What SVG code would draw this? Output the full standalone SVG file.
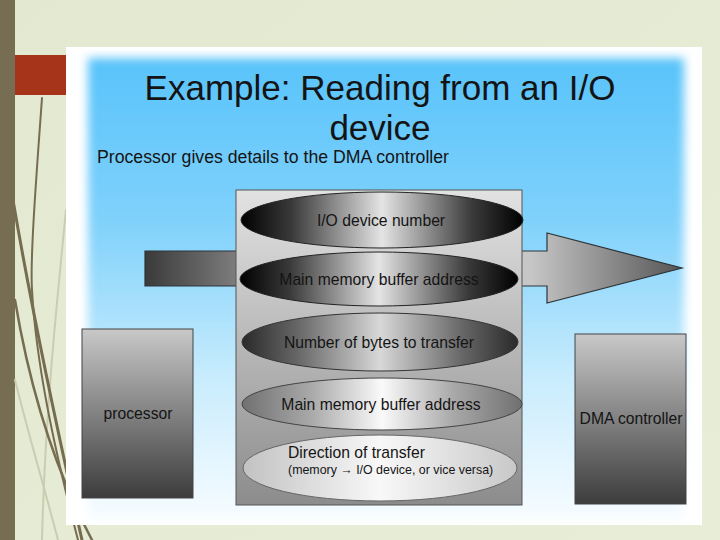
<svg xmlns="http://www.w3.org/2000/svg" width="720" height="540" viewBox="0 0 720 540">
<defs>
<style>
.t{font-family:"Liberation Sans",Arial,sans-serif;fill:#141414}
.lbl{font-size:15.7px;text-anchor:middle}
.deco{fill:none;stroke:#766c50;stroke-linecap:round}
.decol{fill:none;stroke:#c9cdb2;stroke-linecap:round}
</style>
<linearGradient id="bg" x1="0" y1="0" x2="1" y2="1">
<stop offset="0" stop-color="#e3e9d0"/><stop offset="1" stop-color="#e8edd8"/>
</linearGradient>
<linearGradient id="blue" x1="0" y1="0" x2="0" y2="1">
<stop offset="0" stop-color="#58c3fa"/><stop offset="0.35" stop-color="#7fd1fb"/><stop offset="0.7" stop-color="#c9ecfd"/><stop offset="1" stop-color="#f6fcff"/>
</linearGradient>
<filter id="soft" x="-5%" y="-5%" width="110%" height="110%"><feGaussianBlur stdDeviation="5"/></filter>
<linearGradient id="stack" x1="0" y1="0" x2="0" y2="1">
<stop offset="0" stop-color="#e2e2e2"/><stop offset="1" stop-color="#8c8c8c"/>
</linearGradient>
<linearGradient id="arrow" gradientUnits="userSpaceOnUse" x1="145" y1="0" x2="682" y2="0">
<stop offset="0" stop-color="#3a3a3a"/><stop offset="0.2" stop-color="#8a8888"/><stop offset="0.45" stop-color="#d2d2d2"/><stop offset="0.72" stop-color="#c6c6c6"/><stop offset="1" stop-color="#555"/>
</linearGradient>
<linearGradient id="box" x1="0" y1="0" x2="0" y2="1">
<stop offset="0" stop-color="#c8c8c8"/><stop offset="1" stop-color="#3c3c3c"/>
</linearGradient>
<linearGradient id="e1" x1="0" y1="0" x2="1" y2="0">
<stop offset="0" stop-color="#000"/><stop offset="0.18" stop-color="#3a3a3a"/><stop offset="0.5" stop-color="#e4e4e4"/><stop offset="0.82" stop-color="#3a3a3a"/><stop offset="1" stop-color="#000"/>
</linearGradient>
<linearGradient id="e3" x1="0" y1="0" x2="1" y2="0">
<stop offset="0" stop-color="#2a2a2a"/><stop offset="0.2" stop-color="#666"/><stop offset="0.5" stop-color="#d8d8d8"/><stop offset="0.8" stop-color="#666"/><stop offset="1" stop-color="#2a2a2a"/>
</linearGradient>
<linearGradient id="e4" x1="0" y1="0" x2="1" y2="0">
<stop offset="0" stop-color="#707070"/><stop offset="0.25" stop-color="#aaa"/><stop offset="0.5" stop-color="#fafafa"/><stop offset="0.75" stop-color="#aaa"/><stop offset="1" stop-color="#707070"/>
</linearGradient>
<linearGradient id="e5" x1="0" y1="0" x2="1" y2="0">
<stop offset="0" stop-color="#c2c2c2"/><stop offset="0.5" stop-color="#f8f8f8"/><stop offset="1" stop-color="#c8c8c8"/>
</linearGradient>
</defs>

<rect width="720" height="540" fill="url(#bg)"/>
<rect x="0" y="0" width="15" height="540" fill="#776d52"/>
<rect x="15" y="55" width="55" height="40" fill="#a5341a"/>
<g id="decoration">
<path class="decol" stroke-width="2" d="M15 380 C30 440 45 490 58 540"/>
<path class="decol" stroke-width="2" d="M66 210 C55 320 45 420 42 540"/>
<path class="deco" stroke-width="2" d="M42 98 C36 180 30 260 32 290 C36 360 52 440 78 540"/>
<path class="deco" stroke-width="3" d="M13 200 C30 300 55 420 82 540"/>
<path class="deco" stroke-width="2.5" d="M15 300 C30 390 55 470 92 540"/>
</g>

<rect x="66" y="47" width="636" height="478" fill="#fff"/>
<rect x="88" y="58" width="596" height="460" fill="url(#blue)" filter="url(#soft)"/>

<g id="title">
<text class="t" x="380" y="100" font-size="35" text-anchor="middle">Example: Reading from an I/O</text>
<text class="t" x="380" y="140" font-size="35" text-anchor="middle">device</text>
<text class="t" x="97" y="163" font-size="17.5" textLength="352" lengthAdjust="spacingAndGlyphs">Processor gives details to the DMA controller</text>
</g>

<g id="connectors">
<polygon points="145,251 547,251 547,233 682,268 547,303 547,286 145,286" fill="url(#arrow)" stroke="#2c3438" stroke-width="1.2"/>
</g>

<g id="processor">
<rect x="82" y="329" width="111" height="169" fill="url(#box)" stroke="#444" stroke-width="1"/>
<text class="t lbl" x="138" y="419">processor</text>
</g>

<g id="dma-controller">
<rect x="575" y="334" width="111" height="170" fill="url(#box)" stroke="#444" stroke-width="1"/>
<text class="t lbl" x="631" y="424">DMA controller</text>
</g>

<g id="details-stack">
<rect x="236" y="190" width="286" height="315" fill="url(#stack)" stroke="#555" stroke-width="1"/>
</g>

<g id="io-device-number">
<ellipse cx="382" cy="220" rx="141" ry="28" fill="url(#e1)" stroke="#222" stroke-width="1"/>
<text class="t lbl" x="381" y="226">I/O device number</text>
</g>
<g id="main-memory-buffer-address-1">
<ellipse cx="379" cy="279" rx="139" ry="27" fill="url(#e1)" stroke="#222" stroke-width="1"/>
<text class="t lbl" x="379" y="285">Main memory buffer address</text>
</g>
<g id="number-of-bytes">
<ellipse cx="380" cy="342" rx="138" ry="29" fill="url(#e3)" stroke="#333" stroke-width="1"/>
<text class="t lbl" x="379" y="348">Number of bytes to transfer</text>
</g>
<g id="main-memory-buffer-address-2">
<ellipse cx="382" cy="404" rx="140" ry="26" fill="url(#e4)" stroke="#444" stroke-width="1"/>
<text class="t lbl" x="381" y="410">Main memory buffer address</text>
</g>
<g id="direction-of-transfer">
<ellipse cx="380" cy="468" rx="137" ry="33" fill="url(#e5)" stroke="#666" stroke-width="1"/>
<text class="t" x="288" y="458" font-size="15.7">Direction of transfer</text>
<text class="t" x="288" y="474" font-size="12.4">(memory → I/O device, or vice versa)</text>
</g>
</svg>
